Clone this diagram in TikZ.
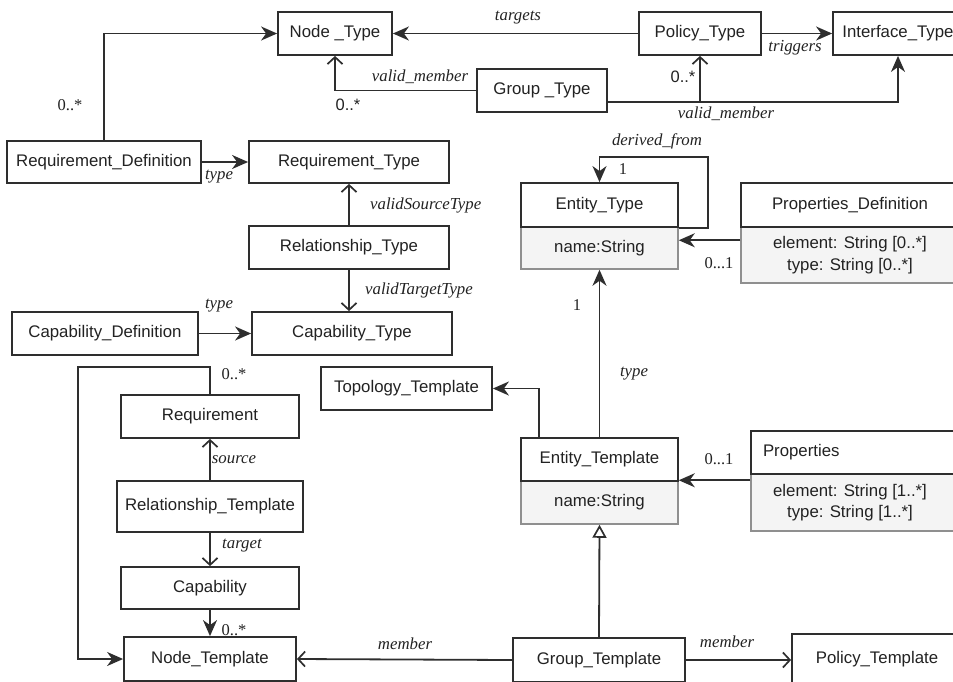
\documentclass[tikz,border=0pt]{standalone}
\usepackage{fontspec}
\setmainfont{Liberation Serif}
\setsansfont{Liberation Sans}
\usetikzlibrary{arrows.meta}

\definecolor{ink}{HTML}{222222}
\definecolor{edge}{HTML}{2E2E2E}
\definecolor{attrfill}{HTML}{F4F4F4}
\definecolor{attredge}{HTML}{8F8F8F}

\tikzset{
  cls/.style={draw=edge, fill=white, line width=1.8pt, rectangle, inner sep=0pt,
    text=ink, font=\sffamily\fontsize{16.8}{20}\selectfont, align=center},
  attr/.style={draw=attredge, fill=attrfill, line width=1.5pt, rectangle, inner sep=0pt,
    text=ink, font=\sffamily\fontsize{16.8}{21.5}\selectfont, align=center},
  conn/.style={draw=edge, line width=1.8pt},
  filled/.style={conn, -{Stealth[length=16pt,width=14pt,inset=5pt]}},
  openhead/.style={conn, -{Straight Barb[length=7pt,width=15pt,line width=1.7pt]}},
  inherit/.style={conn, -{Triangle[open,length=13pt,width=14pt,fill=white,line width=1.7pt]}},
  role/.style={text=ink, font=\rmfamily\itshape\fontsize{16.8}{20}\selectfont, inner sep=0pt},
  mult/.style={text=ink, font=\rmfamily\fontsize{16.5}{20}\selectfont, inner sep=0pt},
  multsf/.style={text=ink, font=\sffamily\fontsize{16.5}{20}\selectfont, inner sep=0pt},
}

\begin{document}
\begin{tikzpicture}[x=1pt, y=-1pt]
\useasboundingbox (0,0) rectangle (953,681);
\clip (0,0) rectangle (953,681);

% ---------- type level ----------
\node[cls, minimum width=114, minimum height=43] (nodetype) at (335,33.5) {Node \_Type};
\node[cls, minimum width=122, minimum height=43] (policytype) at (700,33.5) {Policy\_Type};
\node[cls, minimum width=130, minimum height=43] (ifacetype) at (898,33.5) {Interface\_Type};
\node[cls, minimum width=130, minimum height=43] (grouptype) at (542,90.5) {Group \_Type};

\node[cls, minimum width=194, minimum height=42] (reqdef) at (104,162) {Requirement\_Definition};
\node[cls, minimum width=200, minimum height=42] (reqtype) at (349,162) {Requirement\_Type};
\node[cls, minimum width=200, minimum height=43] (reltype) at (349,247.5) {Relationship\_Type};
\node[cls, minimum width=186, minimum height=43] (capdef) at (105,333.5) {Capability\_Definition};
\node[cls, minimum width=200, minimum height=43] (captype) at (352,333.5) {Capability\_Type};

% Entity_Type class with attribute compartment
\node[attr, minimum width=157, minimum height=42] (etbody) at (599.5,248) {name:String};
\node[cls, minimum width=157, minimum height=44] (ethead) at (599.5,205) {Entity\_Type};

% Properties_Definition class
\node[attr, minimum width=218, minimum height=56] (pdbody) at (850,255)
  {element: String [0..*]\\type: String [0..*]};
\node[cls, minimum width=218, minimum height=44] (pdhead) at (850,205) {Properties\_Definition};

% ---------- template level ----------
\node[cls, minimum width=171, minimum height=43] (topo) at (406.5,388.5) {Topology\_Template};
\node[cls, minimum width=178, minimum height=43] (requirement) at (210,416.5) {Requirement};
\node[cls, minimum width=186, minimum height=51] (reltemplate) at (210,506.5) {Relationship\_Template};
\node[cls, minimum width=178, minimum height=42] (capability) at (210,588) {Capability};
\node[cls, minimum width=172, minimum height=44] (nodetemplate) at (210,659) {Node\_Template};

% Entity_Template class
\node[attr, minimum width=157, minimum height=43] (etbody2) at (599.5,502.5) {name:String};
\node[cls, minimum width=157, minimum height=43] (ethead2) at (599.5,459.5) {Entity\_Template};

% Properties class
\node[attr, minimum width=209, minimum height=57,
  label={[name=prtext, attr, draw=none, fill=none, xshift=-5.5pt]center:{element: String [1..*]\\type: String [1..*]}}]
  (prbody) at (855.5,502.5) {};
\node[cls, text width=185, inner xsep=12pt, align=left, minimum height=43] (prhead) at (855.5,452.5) {Properties};

\node[cls, minimum width=172, minimum height=44] (grouptemplate) at (599,660) {Group\_Template};
\node[cls, minimum width=170, minimum height=50] (policytemplate) at (877,659) {Policy\_Template};

% ---------- connectors: type level ----------
\draw[filled] (reqdef.north) |- (nodetype.west);
\node[mult] (m1) at (70,105) {0..*};

\draw[filled] (policytype.west) -- (nodetype.east);
\node[role] (l1) at (518,18) {targets};

\draw[filled] (policytype.east) -- (ifacetype.west);
\node[role] (l2) at (795,48) {triggers};

\draw[openhead] (grouptype.west) -| (nodetype.south);
\node[role] (l3) at (420,77) {valid\_member};
\node[multsf] (m2) at (348,105) {0..*};

\coordinate (gbranch) at ([yshift=-11.5pt]grouptype.east);
\draw[filled] (gbranch) -| (ifacetype.south);
\draw[openhead] (policytype.south |- gbranch) -- (policytype.south);
\node[role] (l4) at (726,114) {valid\_member};
\node[multsf] (m3) at (683,77) {0..*};

\draw[filled] (reqdef.east) -- (reqtype.west);
\node[role] (l5) at (219,177) {type};

\draw[openhead] (reltype.north) -- (reqtype.south);
\node[role, anchor=west] (l6) at (370,205) {validSourceType};

\draw[openhead] (reltype.south) -- (reltype.south |- captype.north);
\node[role, anchor=west] (l7) at (365,290) {validTargetType};

\draw[filled] (capdef.east) -- (captype.west);
\node[role] (l8) at (219,306) {type};

% derived_from self association
\draw[filled] (ethead.south east) -| ++(29,-71) -| (ethead.north);
\node[role] (l9) at (657,141) {derived\_from};
\node[mult] (m4) at (623,169) {1};

\draw[filled] ([yshift=-14pt]pdbody.north west) -- ([yshift=-14pt]etbody.north east);
\node[mult] (m5) at (719,263) {0...1};

% ---------- connectors: template level ----------
\draw[filled] (ethead2.north) -- (etbody.south);
\node[role] (l10) at (634,374) {type};
\node[mult] (m6) at (577,305) {1};

\draw[filled] ([xshift=-60.5pt]ethead2.north) |- (topo.east);

\draw[filled] (prbody.west |- etbody2.north) -- (etbody2.north east);
\node[mult] (m7) at (719,459) {0...1};

\draw[inherit] (grouptemplate.north) -- (etbody2.south);

\draw[openhead] (grouptemplate.west) -- (nodetemplate.east);
\node[role] (l11) at (405,644) {member};

\draw[openhead] (grouptemplate.east) -- (grouptemplate.east -| policytemplate.west);
\node[role] (l12) at (727,642) {member};

\coordinate (reqloop) at (78,367);
\draw[filled] (requirement.north) |- (reqloop) |- (nodetemplate.west);
\node[mult] (m8) at (234,374) {0..*};

\draw[openhead] (reltemplate.north) -- (requirement.south);
\node[role] (l13) at (234,460) {source};

\draw[openhead] (reltemplate.south) -- (capability.north);
\node[role] (l14) at (242,546) {target};

\draw[filled] (capability.south) -- (nodetemplate.north);
\node[mult] (m9) at (234,630) {0..*};
\end{tikzpicture}
\end{document}
